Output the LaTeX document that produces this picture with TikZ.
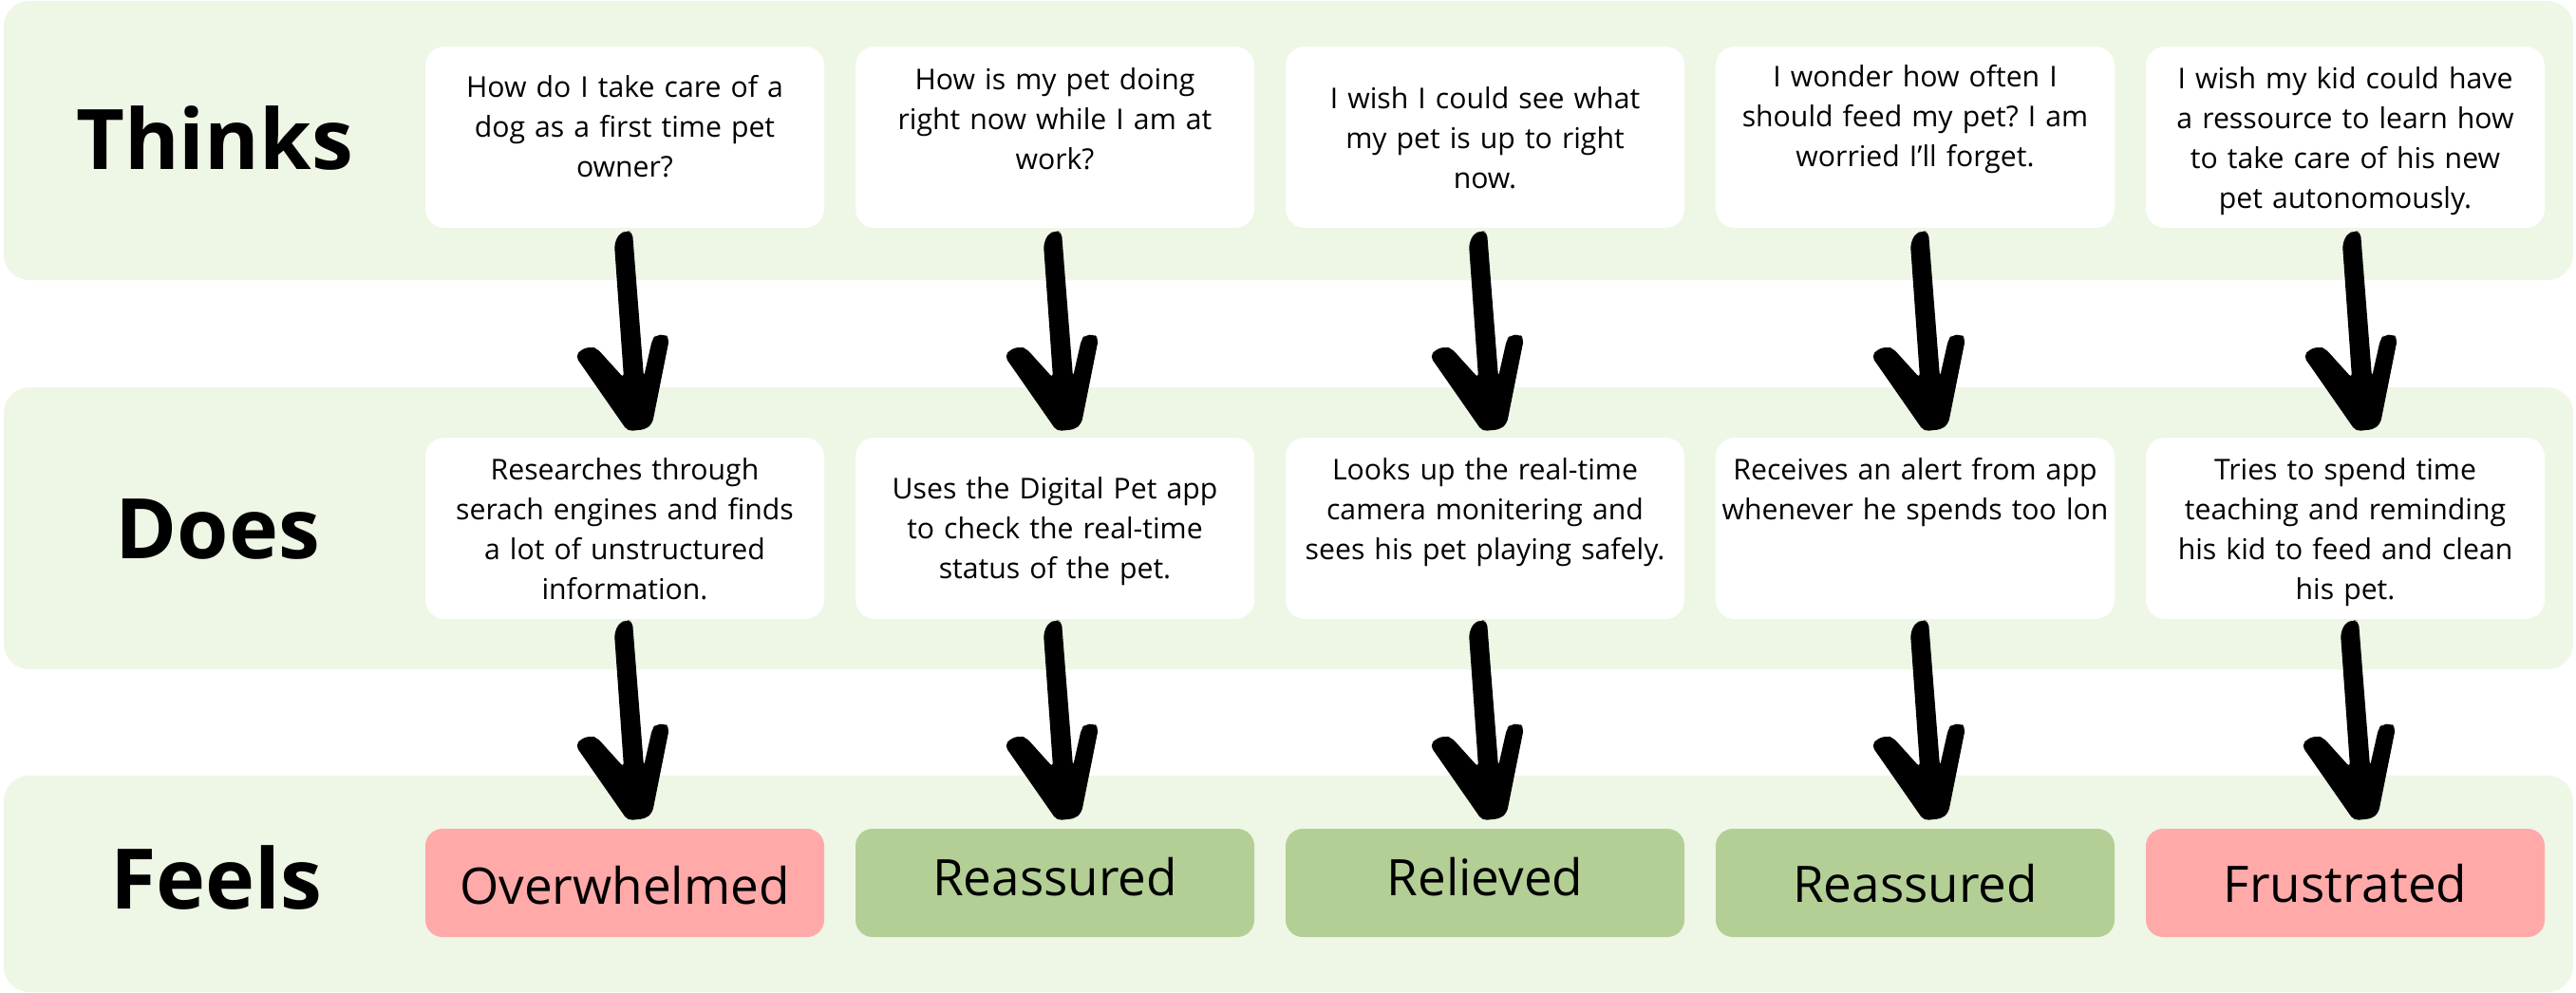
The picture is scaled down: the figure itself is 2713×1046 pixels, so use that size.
\documentclass[tikz,border=0pt]{standalone}
\usepackage{fontspec}
\setmainfont{Open Sans}
\usetikzlibrary{calc}
\frenchspacing
\definecolor{bandc}{HTML}{EEF6E5}
\definecolor{goodc}{HTML}{B3CF96}
\definecolor{badc}{HTML}{FFA9A9}
\tikzset{
  bandbox/.style={fill=bandc, draw=none, rounded corners=27pt, inner sep=0pt},
  card/.style={fill=white, draw=none, rounded corners=20pt, minimum width=420pt, minimum height=191pt, inner sep=0pt},
  feelbox/.style={draw=none, rounded corners=18pt, minimum width=420pt, minimum height=114pt, inner sep=0pt},
  cardtext/.style={anchor=base, align=center, text width=520pt, font=\fontsize{30.2}{42}\selectfont\frenchspacing, inner sep=0pt},
  feeltext/.style={anchor=base, font=\fontsize{53}{60}\selectfont, inner sep=0pt},
  rowlabel/.style={anchor=base, font=\fontsize{88}{100}\selectfont\bfseries, inner sep=0pt},
  handarrow/.style={fill=black, draw=none, rounded corners=5pt},
}
\newcommand\harrow[3]{% #1 from node, #2 x offset, #3 y offset
  \fill[handarrow, shift={($(#1.south)+(#2,#3)$)}]
    (-13,14) -- (-8,3) -- (0,0) -- (6,1) -- (18,154) -- (27,114) -- (31,110) -- (40,109) -- (45,113)
    -- (27,203) -- (20,209) -- (1,211) -- (-54,132) -- (-48,125) -- (-38,122) -- (-31,124)
    -- (-3,155) -- cycle;}
\begin{document}
\begin{tikzpicture}[x=1pt,y=-1pt]
\useasboundingbox (0,0) rectangle (2713,1046);
% bands
\node[bandbox, minimum width=2706pt, minimum height=294pt] (bthinks) at (1357,148) {};
\node[bandbox, minimum width=2706pt, minimum height=297pt] (bdoes) at (1357,556.5) {};
\node[bandbox, minimum width=2706pt, minimum height=228pt] (bfeels) at (1357,931) {};
% row labels
\node[rowlabel] (lthinks) at (226,178) {Thinks};
\node[rowlabel] (ldoes) at (229.5,588) {Does};
\node[rowlabel] (lfeels) at (228,957) {Feels};
% thinks cards
\node[card] (t1) at (658,144.5) {};
\node[card] (t2) at (1111,144.5) {};
\node[card] (t3) at (1564,144.5) {};
\node[card] (t4) at (2017,144.5) {};
\node[card] (t5) at (2470,144.5) {};
\node[cardtext] (t1x) at (658,103) {How do I take care of a\\dog as a first time pet\\owner?};
\node[cardtext] (t2x) at (1111,95) {How is my pet doing\\right now while I am at\\work?};
\node[cardtext] (t3x) at (1564,115) {I wish I could see what\\my pet is up to right\\now.};
\node[cardtext] (t4x) at (2017,92) {I wonder how often I\\should feed my pet? I am\\worried I’ll forget.};
\node[cardtext] (t5x) at (2470,94) {I wish my kid could have\\a ressource to learn how\\to take care of his new\\pet autonomously.};
% does cards
\node[card] (d1) at (658,556.5) {};
\node[card] (d2) at (1111,556.5) {};
\node[card] (d3) at (1564,556.5) {};
\node[card] (d4) at (2017,556.5) {};
\node[card] (d5) at (2470,556.5) {};
\node[cardtext] (d1x) at (658,505) {Researches through\\serach engines and finds\\a lot of unstructured\\information.};
\node[cardtext] (d2x) at (1111,525) {Uses the Digital Pet app\\to check the real-time\\status of the pet.};
\node[cardtext] (d3x) at (1564,505) {Looks up the real-time\\camera monitering and\\sees his pet playing safely.};
\node[cardtext] (d4x) at (2017,505) {Receives an alert from app\\whenever he spends too lon};
\node[cardtext] (d5x) at (2470,505) {Tries to spend time\\teaching and reminding\\his kid to feed and clean\\his pet.};
% feels
\node[feelbox, fill=badc] (f1) at (658,930) {};
\node[feelbox, fill=goodc] (f2) at (1111,930) {};
\node[feelbox, fill=goodc] (f3) at (1564,930) {};
\node[feelbox, fill=goodc] (f4) at (2017,930) {};
\node[feelbox, fill=badc] (f5) at (2470,930) {};
\node[feeltext] (f1x) at (658,952) {Overwhelmed};
\node[feeltext] (f2x) at (1111,943) {Reassured};
\node[feeltext] (f3x) at (1564,943) {Relieved};
\node[feeltext] (f4x) at (2017,950) {Reassured};
\node[feeltext] (f5x) at (2470,950) {Frustrated};
% arrows thinks -> does
\harrow{t1}{2}{3}
\harrow{t2}{1}{3}
\harrow{t3}{-4}{3}
\harrow{t4}{8}{3}
\harrow{t5}{10}{3}
% arrows does -> feels
\harrow{d1}{2}{1}
\harrow{d2}{1}{1}
\harrow{d3}{-4}{1}
\harrow{d4}{8}{1}
\harrow{d5}{8}{1}
\end{tikzpicture}
\end{document}
